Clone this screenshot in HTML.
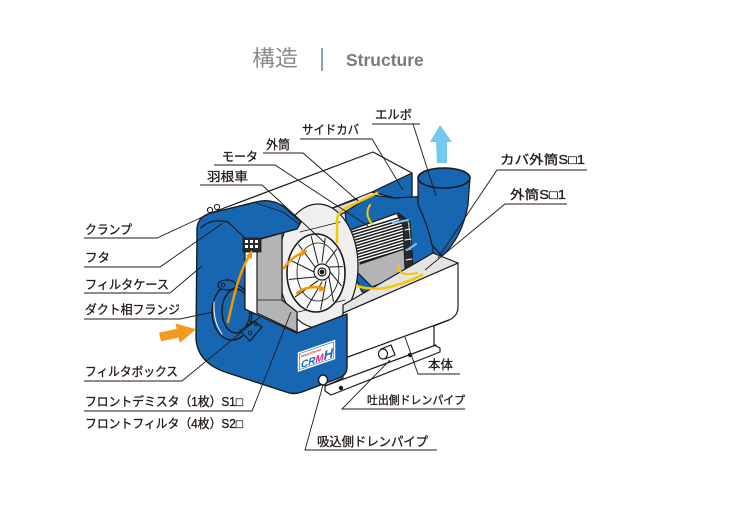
<!DOCTYPE html>
<html><head><meta charset="utf-8"><style>
html,body{margin:0;padding:0;background:#fff;}
svg{display:block;}
text{font-family:"Liberation Sans","Noto Sans CJK JP",sans-serif;fill:#231815;}
.lb text{stroke:#231815;stroke-width:0.3;}
</style></head><body>
<svg width="736" height="513" viewBox="0 0 736 513" xmlns="http://www.w3.org/2000/svg">
<rect width="736" height="513" fill="#fff"/>
<defs>
<clipPath id="mc"><polygon points="351,231 397,214 405,219 407,248 360,264"/></clipPath>
</defs>

<!-- Title -->
<text x="252" y="66" font-size="22" style="fill:#8c8c8c" textLength="46" lengthAdjust="spacingAndGlyphs">構造</text>
<rect x="321" y="48" width="2" height="23" fill="#8b9bb0"/>
<text x="346" y="66" font-size="17.5" font-weight="bold" style="fill:#7a7a7a">Structure</text>

<g stroke="#1a1a1a" stroke-width="1.2" stroke-linejoin="round" stroke-linecap="round">
<!-- interior -->
<polygon points="283,206 300,221 345,203 372,192 395,198 420,196 432,250 425,288 380,300 345,312 300,322 282,300" fill="#ececec" stroke="none"/>
<!-- top box outline -->
<path d="M211,213 L373,152 L412,173 L412,198" fill="none"/>
<path d="M300,221 L372,192 L395,198" fill="none"/>
<path d="M330,209 L357,199 L360,207 L333,217 Z" fill="#dcdcdc"/>
<polygon points="372,192 412,173 412,198 395,198" fill="#1666b1"/>

<!-- volute (blue housing) -->
<path d="M345,212 L372,195 L395,198 L412,197 L428,196 Q446,232 440,262 L432,284 L400,293 L362,292 L352,270 Z" fill="#1666b1"/>
<path d="M420,197 Q441,236 428,285" fill="none"/>
<!-- elbow -->
<path d="M418,178 L418,205 Q428,225 432,245 L442,256 Q462,238 468,205 L470,178 Z" fill="#1666b1"/>
<ellipse cx="444" cy="178" rx="26" ry="10" fill="#1666b1" stroke-width="1.6"/>

<!-- motor -->
<polygon points="350,230 398,213 410,222 413,270 372,287 357,272" fill="#b4b4b4"/>
<polygon points="351,231 397,214 405,219 407,248 360,264" fill="#fff" stroke="none"/>
<g clip-path="url(#mc)" stroke-width="1.5">
<path d="M345,234 L415,213 M345,237 L415,216 M345,240 L415,219 M345,243 L415,222 M345,246 L415,225 M345,249 L415,228 M345,252 L415,231 M345,255 L415,234 M345,258 L415,237 M345,261 L415,240 M345,264 L415,243 M345,267 L415,246 M345,270 L415,249 M345,273 L415,252"/>
</g>
<path d="M360,264 L407,248" fill="none"/>
<polygon points="397,214 407,220 413,268 405,272 403,226" fill="#2a2a2a" stroke-width="0.8"/>
<path d="M405,230 L410,229 M405,240 L411,239 M406,250 L411,249 M406,260 L412,259" stroke="#fff" stroke-width="1"/>

<!-- fan casing -->
<ellipse cx="318" cy="266" rx="40" ry="62" fill="#efefef"/>
<path d="M300,232 L340,222 M298,312 L345,300" fill="none" stroke-width="0.8"/>
<!-- impeller -->
<ellipse cx="316" cy="273" rx="29" ry="39" fill="#fafafa" stroke-width="1.6"/>
<ellipse cx="318" cy="272" rx="21" ry="29" fill="none" stroke-width="0.8"/>
<path d="M330,272 L341.4,285.7 M328.9,277 L333.4,301.3 M326,280.7 L320.7,309.4 M322,282 L306.8,307.8 M318,280.7 L295.3,296.8 M315.1,277 L289.4,279.4 M314,272 L290.6,260.3 M315.1,267 L298.6,244.7 M318,263.3 L311.3,236.6 M322,262 L325.2,238.2 M326,263.3 L336.7,249.2 M328.9,267 L342.6,266.6" stroke-width="1"/>
<circle cx="322" cy="272" r="8" fill="#fff"/>
<circle cx="322" cy="272" r="4" fill="#fff"/>
<circle cx="322" cy="272" r="1.8" fill="#1a1a1a"/>

<!-- base (本体) -->
<path d="M343,313 L458,263 L458,307 Q458,316 449,320 L434,326 L434,345 L440,348 L440,352 L331,395 L325,391 L325,386 L343,378 Z" fill="#fff"/>
<polygon points="343,305 433,253 458,263 343,313" fill="#e4e4e4"/>
<path d="M345,358 L449,320" fill="none"/>
<path d="M325,386 L436,345" fill="none"/>
<polygon points="381,349 391,345 395,355 385,359" fill="#fff"/>
<ellipse cx="383" cy="354" rx="4.5" ry="5" fill="#fff"/>
<circle cx="410" cy="355" r="1.6" fill="#1a1a1a"/>
<circle cx="341" cy="388" r="1.6" fill="#1a1a1a"/>

<!-- blue front cover -->
<path d="M197,232 Q196,217 211,213 L256,202 Q270,198 283,206 L301,222 L297,229 L282,233 L245,243 L245,309 L297,333 L347,314 L347,367 Q347,375 339,378 L302,392 Q294,395 286,392 L225,372 Q197,362 196,338 Z" fill="#1666b1" stroke-width="1.4"/>
<path d="M201,228 Q210,218 228,222 L247,240" fill="none"/>
<path d="M256,203 L283,212 L299,224" fill="none" stroke-width="0.9"/>
<!-- flange ring -->
<ellipse cx="232" cy="312" rx="20" ry="28" fill="none" stroke-width="1.4"/>
<ellipse cx="236" cy="311" rx="14" ry="22" fill="none" stroke-width="1.4"/>
<path d="M214,302 Q213,322 222,334" fill="none" stroke="#fff" stroke-width="1"/>
<ellipse cx="227" cy="285" rx="9" ry="5" fill="#1666b1"/>
<circle cx="223" cy="285" r="1.8" fill="none" stroke-width="0.9"/>
<polygon points="240,331 254,321 262,327 250,341" fill="#1666b1"/>
<circle cx="250" cy="333" r="1.8" fill="none" stroke-width="0.9"/>
<circle cx="256" cy="324" r="1.5" fill="none" stroke-width="0.9"/>
<!-- white interior & filter box -->
<polygon points="245,243 282,233 282,300 297,312 297,333 245,309" fill="#fff"/>
<polygon points="257,240 282,233 282,300 297,312 297,332 257,313" fill="#b4b4b4"/>
<path d="M257,300 L282,300" fill="none" stroke-width="0.8"/>
<!-- mesh -->
<rect x="243" y="238" width="18" height="14" fill="#2b2b2b" stroke-width="0.8"/>
<g fill="#fff" stroke="none">
<rect x="245" y="240" width="3" height="3"/><rect x="250" y="240" width="3" height="3"/><rect x="255" y="240" width="3" height="3"/>
<rect x="245" y="245" width="3" height="3"/><rect x="250" y="245" width="3" height="3"/><rect x="255" y="245" width="3" height="3"/>
</g>
<!-- clamps -->
<circle cx="210" cy="210" r="2.6" fill="#fff" stroke-width="1"/>
<circle cx="217" cy="207" r="2.6" fill="#fff" stroke-width="1"/>
<!-- suction drain pipe -->
<ellipse cx="323" cy="380" rx="4.5" ry="5" fill="#fff" stroke-width="1.5"/>
</g>

<!-- logo -->
<g transform="translate(297,352) skewY(-19)">
<rect x="0" y="0" width="39" height="21" fill="#fff" stroke="#1666b1" stroke-width="1.5"/>
<rect x="2.5" y="2.5" width="34" height="16" fill="none" stroke="#1666b1" stroke-width="0.6"/>
<text x="4" y="7" font-size="3.5" style="fill:#d8262e" font-weight="bold">NissinDenki</text>
<text x="4" y="17.5" font-size="10" font-weight="bold" font-style="italic" style="fill:#1666b1">CR<tspan style="fill:#d61f80">M</tspan><tspan font-size="13">H</tspan></text>
</g>

<!-- arrows -->
<polygon points="440,125 452,142 447,142 447,163 437,163 436,142 430,142" fill="#74c7ee"/>
<g transform="translate(160,337) rotate(-12)">
<polygon points="0,-4.5 18,-4.5 18,-10 37,0 18,10 18,4.5 0,4.5" fill="#f39a1e"/>
</g>

<!-- airflow -->
<g fill="none" stroke-linecap="round">
<path d="M228,322 C233,300 238,275 249,256" stroke="#f39800" stroke-width="2.5"/>
<path d="M284,268 Q292,256 305,252" stroke="#f39800" stroke-width="2.5"/>
<path d="M297,293 Q308,285 322,288" stroke="#f39800" stroke-width="2.5"/>
<path d="M337,242 L337,218 Q340,210 350,206 L377,193" stroke="#f5c800" stroke-width="2.5"/>
<path d="M370,205 Q364,214 372,224" stroke="#f5c800" stroke-width="2"/>
<path d="M357,286 Q370,290 385,288 Q405,284 422,275" stroke="#f5c800" stroke-width="2.5"/>
<path d="M398,266 Q398,277 417,273" stroke="#f5c800" stroke-width="2"/>
<path d="M393,223 L408,220" stroke="#7cc8f0" stroke-width="2"/>
<path d="M407,250 L416,244" stroke="#7cc8f0" stroke-width="2"/>
</g>
<polygon points="252,250 252,259 246,256" fill="#f39800"/>
<polygon points="308,251 302,256 301,249" fill="#f39800"/>
<polygon points="326,289 319,292 320,285" fill="#f39800"/>

<!-- leader lines -->
<g stroke="#231815" stroke-width="0.9" fill="none">
<path d="M84,238 L157,238 L211,213"/>
<path d="M84,267 L160,267 L223,223"/>
<path d="M84,293 L170,293 L202,266"/>
<path d="M84,319 L180,319 L213,312"/>
<path d="M84,381 L182,381 L260,317"/>
<path d="M84,411 L252,411 L291,312"/>
<path d="M200,185 L262,185 L325,243"/>
<path d="M214,165 L275,165 L368,226"/>
<path d="M263,153 L303,153 L357,200"/>
<path d="M300,139 L372,139 L403,190"/>
<path d="M372,124 L420,124"/>
<path d="M413,124 L436,196"/>
<path d="M587,170 L497,170 L438,258"/>
<path d="M567,204 L505,204 L425,270"/>
<path d="M460,374 L418,374 L405,337"/>
<path d="M465,409 L342,409 L390,360"/>
<path d="M437,450 L305,450 L323,385"/>
</g>

<!-- labels -->
<g font-size="12.5" class="lb">
<text x="85" y="234" textLength="47" lengthAdjust="spacingAndGlyphs">クランプ</text>
<text x="85" y="262" textLength="25" lengthAdjust="spacingAndGlyphs">フタ</text>
<text x="85" y="289" textLength="84" lengthAdjust="spacingAndGlyphs">フィルタケース</text>
<text x="85" y="314" textLength="95" lengthAdjust="spacingAndGlyphs">ダクト相フランジ</text>
<text x="85" y="376" textLength="93" lengthAdjust="spacingAndGlyphs">フィルタボックス</text>
<text x="85" y="406" textLength="158" lengthAdjust="spacingAndGlyphs">フロントデミスタ（1枚）S1□</text>
<text x="85" y="428" textLength="158" lengthAdjust="spacingAndGlyphs">フロントフィルタ（4枚）S2□</text>
<text x="207" y="181" textLength="41" lengthAdjust="spacingAndGlyphs">羽根車</text>
<text x="222" y="161" textLength="36" lengthAdjust="spacingAndGlyphs">モータ</text>
<text x="266" y="149" textLength="24" lengthAdjust="spacingAndGlyphs">外筒</text>
<text x="302" y="134" textLength="57" lengthAdjust="spacingAndGlyphs">サイドカバ</text>
<text x="375" y="119" textLength="37" lengthAdjust="spacingAndGlyphs">エルボ</text>
<text x="500" y="164" textLength="85" lengthAdjust="spacingAndGlyphs">カバ外筒S□1</text>
<text x="510" y="199" textLength="56" lengthAdjust="spacingAndGlyphs">外筒S□1</text>
<text x="428" y="369" textLength="25" lengthAdjust="spacingAndGlyphs">本体</text>
<text x="367" y="404" font-size="11.5" textLength="98" lengthAdjust="spacingAndGlyphs">吐出側ドレンパイプ</text>
<text x="317" y="446" textLength="111" lengthAdjust="spacingAndGlyphs">吸込側ドレンパイプ</text>
</g>
</svg>
</body></html>
